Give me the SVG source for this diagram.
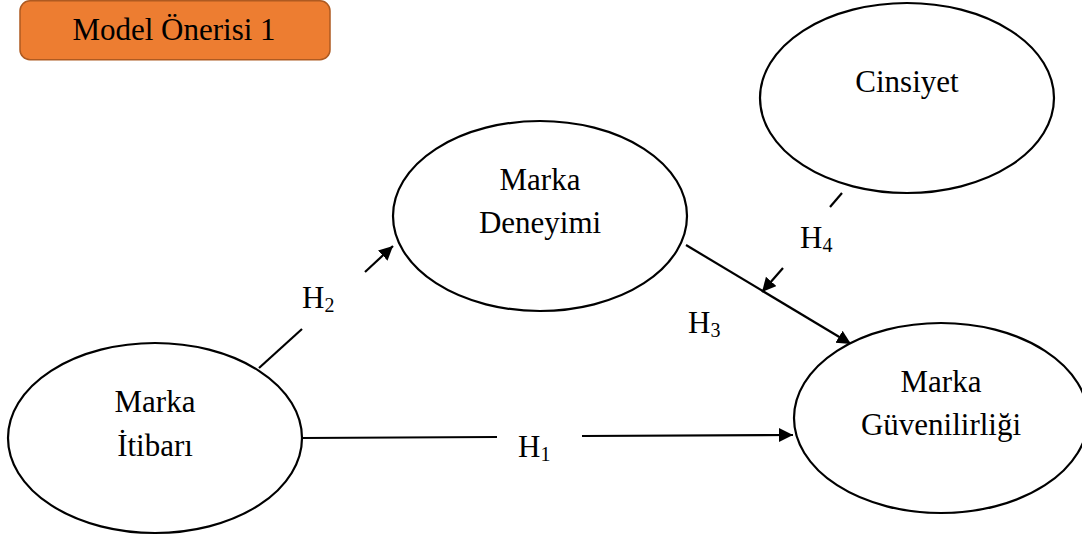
<svg xmlns="http://www.w3.org/2000/svg" width="1082" height="540" viewBox="0 0 1082 540">
  <style>
    .node { fill: #ffffff; stroke: #000000; stroke-width: 2.2; }
    .lbl { font-family: "Liberation Serif", "Times New Roman", serif; font-size: 31px; fill: #000000; text-anchor: middle; }
    .hyp { font-family: "Liberation Serif", "Times New Roman", serif; font-size: 31px; fill: #000000; }
    .sub { font-size: 20px; }
    .edge { fill: none; stroke: #000000; stroke-width: 2.2; }
    .title-box { fill: #ED7D31; stroke: #AE5A21; stroke-width: 1.5; }
  </style>
  <defs>
    <marker id="arrow" markerUnits="userSpaceOnUse" markerWidth="16" markerHeight="16" refX="14" refY="7" orient="auto">
      <path d="M0,0 L14,7 L0,14 z" fill="#000000"/>
    </marker>
  </defs>

  <rect width="1082" height="540" fill="#ffffff"/>

  <!-- title -->
  <g id="title">
    <rect class="title-box" x="20" y="0.75" width="310" height="59" rx="10" ry="10"/>
    <text class="lbl" x="174" y="40">Model Önerisi 1</text>
  </g>

  <!-- connectors -->
  <g id="connectors">
    <!-- H1: Marka İtibarı -> Marka Güvenilirliği -->
    <line class="edge" x1="302" y1="438" x2="497" y2="437"/>
    <line class="edge" x1="582" y1="436" x2="793" y2="435" marker-end="url(#arrow)"/>
    <!-- H2: Marka İtibarı -> Marka Deneyimi -->
    <line class="edge" x1="259" y1="368" x2="302" y2="329"/>
    <line class="edge" x1="365" y1="272" x2="393" y2="246" marker-end="url(#arrow)"/>
    <!-- H3: Marka Deneyimi -> Marka Güvenilirliği -->
    <line class="edge" x1="686" y1="245" x2="851" y2="344" marker-end="url(#arrow)"/>
    <!-- H4: Cinsiyet moderates H3 -->
    <line class="edge" x1="842" y1="193" x2="830" y2="207"/>
    <line class="edge" x1="783" y1="268" x2="762" y2="292" marker-end="url(#arrow)"/>

    <text class="hyp" x="518" y="457">H<tspan class="sub" dy="4">1</tspan></text>
    <text class="hyp" x="302" y="308">H<tspan class="sub" dy="4">2</tspan></text>
    <text class="hyp" x="688" y="333">H<tspan class="sub" dy="4">3</tspan></text>
    <text class="hyp" x="800" y="248">H<tspan class="sub" dy="4">4</tspan></text>
  </g>

  <!-- nodes -->
  <g id="marka-itibari">
    <ellipse class="node" cx="155" cy="438" rx="147" ry="95"/>
    <text class="lbl" x="155" y="412">Marka</text>
    <text class="lbl" x="155" y="456">İtibarı</text>
  </g>

  <g id="marka-deneyimi">
    <ellipse class="node" cx="540" cy="216" rx="147" ry="95"/>
    <text class="lbl" x="540" y="190">Marka</text>
    <text class="lbl" x="540" y="233">Deneyimi</text>
  </g>

  <g id="cinsiyet">
    <ellipse class="node" cx="907" cy="98" rx="147" ry="95"/>
    <text class="lbl" x="907" y="92">Cinsiyet</text>
  </g>

  <g id="marka-guvenilirligi">
    <ellipse class="node" cx="941" cy="418" rx="147" ry="95"/>
    <text class="lbl" x="941" y="392">Marka</text>
    <text class="lbl" x="941" y="435">Güvenilirliği</text>
  </g>
</svg>
